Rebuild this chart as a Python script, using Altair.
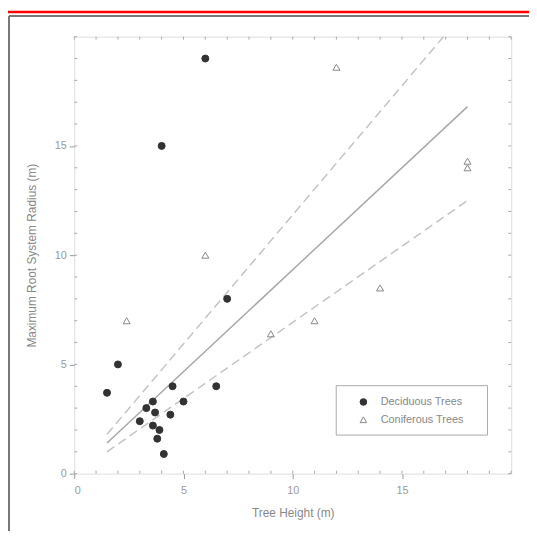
import altair as alt
import pandas as pd

# Data
dec_x = [6.0, 4.0, 7.0, 2.0, 1.5, 4.5, 6.5, 5.0, 3.6, 3.3, 3.7, 4.4, 3.0, 3.6, 3.9, 3.8, 4.1]
dec_y = [19.0, 15.0, 8.0, 5.0, 3.7, 4.0, 4.0, 3.3, 3.3, 3.0, 2.8, 2.7, 2.4, 2.2, 2.0, 1.6, 0.9]
con_x = [2.4, 6.0, 12.0, 18.0, 18.0, 14.0, 11.0, 9.0]
con_y = [7.0, 10.0, 18.6, 14.0, 14.3, 8.5, 7.0, 6.4]

fit_x = [1.5, 18.0]
fit_y = [1.4, 16.8]
upper_x = [1.5, 16.9]
upper_y = [1.8, 20.0]
lower_x = [1.5, 18.0]
lower_y = [1.0, 12.5]

x_ticks = [0, 5, 10, 15]
y_ticks = [0, 5, 10, 15]
minor = list(range(0, 21))

groups = ["Deciduous Trees", "Coniferous Trees"]

pts = pd.DataFrame({
    "x": dec_x + con_x,
    "y": dec_y + con_y,
    "g": [groups[0]] * len(dec_x) + [groups[1]] * len(con_x),
})
lines = pd.DataFrame({
    "x": fit_x + upper_x + lower_x,
    "y": fit_y + upper_y + lower_y,
    "s": ["fit"] * 2 + ["upper"] * 2 + ["lower"] * 2,
})
minor_df = pd.DataFrame({"v": minor})
one = pd.DataFrame({"a": [0]})

FONT = "Liberation Sans"
xs = alt.Scale(domain=[0, 20], nice=False, zero=False)
ys = alt.Scale(domain=[0, 20], nice=False, zero=False)

def leg():
    return alt.Legend(title=None, orient="none", legendX=287, legendY=364,
                      labelFont=FONT, labelFontSize=11, labelColor="#888",
                      rowPadding=6, labelOffset=12, padding=0,
                      symbolSize=45, symbolStrokeWidth=1)

points = alt.Chart(pts).mark_point(size=50, strokeWidth=1, opacity=1).encode(
    x=alt.X("x:Q", scale=xs, title="Tree Height (m)",
            axis=alt.Axis(values=x_ticks, grid=False, tickSize=5, tickColor="#999",
                          domain=False, labelColor="#9a9a9a", labelFontSize=11,
                          labelFont=FONT, labelPadding=6, titleFont=FONT,
                          titleFontSize=12, titleColor="#888", titleFontWeight="normal",
                          titlePadding=12)),
    y=alt.Y("y:Q", scale=ys, title="Maximum Root System Radius (m)",
            axis=alt.Axis(values=y_ticks, grid=False, tickSize=5, tickColor="#999",
                          domain=False, labelColor="#9a9a9a", labelFontSize=11,
                          labelFont=FONT, labelPadding=3, titleFont=FONT,
                          titleFontSize=12, titleColor="#888", titleFontWeight="normal",
                          titlePadding=16)),
    shape=alt.Shape("g:N", scale=alt.Scale(domain=groups, range=["circle", "triangle-up"]),
                    legend=leg()),
    fill=alt.Fill("g:N", scale=alt.Scale(domain=groups, range=["#333333", "transparent"]),
                  legend=leg()),
    stroke=alt.Stroke("g:N", scale=alt.Scale(domain=groups, range=["#333333", "#888888"]),
                      legend=leg()),
)

fit = alt.Chart(lines).transform_filter(alt.datum.s == "fit").mark_line(
    color="#a8a8a8", strokeWidth=1.5).encode(x="x:Q", y="y:Q")
bands = alt.Chart(lines).transform_filter(alt.datum.s != "fit").mark_line(
    color="#c4c4c4", strokeWidth=1.5, strokeDash=[9, 5]).encode(
    x="x:Q", y="y:Q", detail="s:N")

tick_style = dict(color="#aaa", strokeWidth=1)
t_bottom = alt.Chart(minor_df).mark_rule(**tick_style).encode(
    x="v:Q", y=alt.value(442), y2=alt.value(439))
t_top = alt.Chart(minor_df).mark_rule(**tick_style).encode(
    x="v:Q", y=alt.value(0), y2=alt.value(3))
t_left = alt.Chart(minor_df).mark_rule(**tick_style).encode(
    y="v:Q", x=alt.value(0), x2=alt.value(3))
t_right = alt.Chart(minor_df).mark_rule(**tick_style).encode(
    y="v:Q", x=alt.value(442), x2=alt.value(439))

legend_box = alt.Chart(one).mark_rect(fill="white", stroke="#aaa", strokeWidth=1).encode(
    x=alt.value(265), x2=alt.value(418), y=alt.value(353), y2=alt.value(403))

red = alt.Chart(one).mark_rule(color="#ff0000", strokeWidth=2.5).encode(
    x=alt.value(-67), x2=alt.value(462), y=alt.value(-25))
frame_top = alt.Chart(one).mark_rule(color="#777", strokeWidth=2).encode(
    x=alt.value(-66), x2=alt.value(462), y=alt.value(-21))
frame_left = alt.Chart(one).mark_rule(color="#777", strokeWidth=2).encode(
    x=alt.value(-66), y=alt.value(-21), y2=alt.value(500))

chart = alt.layer(
    red, frame_top, frame_left, legend_box,
    t_bottom, t_top, t_left, t_right,
    bands, fit, points
).properties(
    width=442, height=442,
    autosize=alt.AutoSizeParams(type="none"),
    padding={"left": 67, "top": 26, "right": 18, "bottom": 55},
).configure_view(stroke="#999", strokeWidth=1.5).configure(background="white")

chart.save("out.html", embed_options={"renderer": "svg", "actions": False})
